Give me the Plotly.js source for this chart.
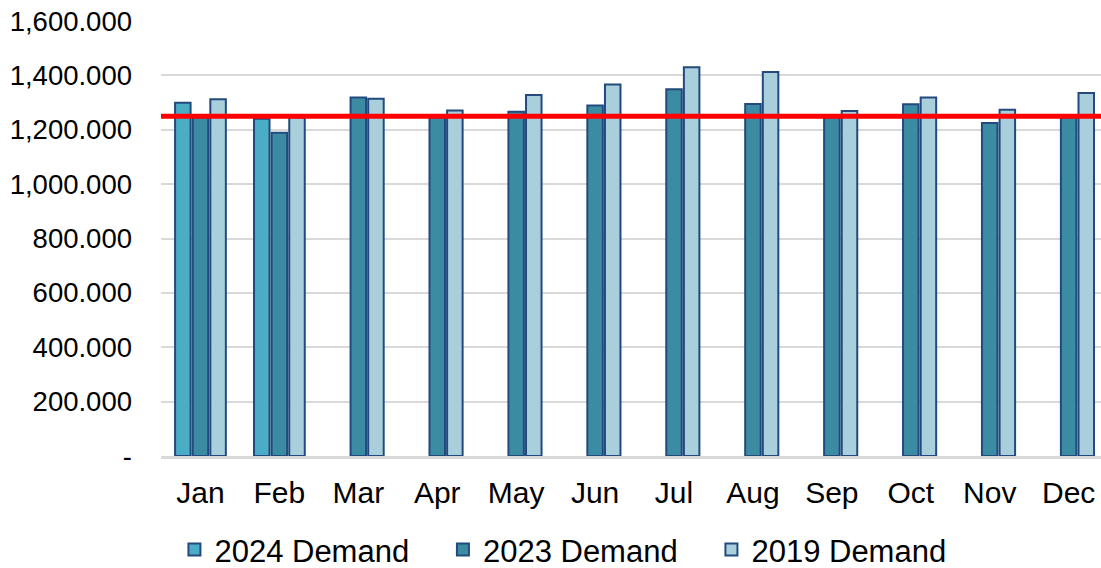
<!DOCTYPE html>
<html>
<head>
<meta charset="utf-8">
<script src="https://cdn.plot.ly/plotly-3.0.1.min.js"></script>
<style>
html,body{margin:0;padding:0;background:#fff;overflow:hidden;}
#chart{width:1101px;height:568px;}
</style>
</head>
<body>
<div id="chart"></div>
<script>
const months = ["Jan","Feb","Mar","Apr","May","Jun","Jul","Aug","Sep","Oct","Nov","Dec"];
const demand2024 = [1299, 1240, null, null, null, null, null, null, null, null, null, null];
const demand2023 = [1245, 1189, 1319, 1245, 1266, 1289, 1349, 1295, 1245, 1294, 1225, 1245];
const demand2019 = [1312, 1245, 1314, 1271, 1328, 1366, 1430, 1412, 1269, 1319, 1274, 1335];
const threshold = 1250;
const yTickVals = [0, 200, 400, 600, 800, 1000, 1200, 1400, 1600];
const yTickText = ["-", "200.000", "400.000", "600.000", "800.000", "1,000.000", "1,200.000", "1,400.000", "1,600.000"];

const outline = {color: "#234a7e", width: 2};
const traces = [
  {type: "bar", name: "2024 Demand", x: months, y: demand2024,
   marker: {color: "#4bacc6", line: outline}},
  {type: "bar", name: "2023 Demand", x: months, y: demand2023,
   marker: {color: "#3b8ba2", line: outline}},
  {type: "bar", name: "2019 Demand", x: months, y: demand2019,
   marker: {color: "#a9cfdd", line: outline}}
];

const layout = {
  width: 1101, height: 568,
  margin: {l: 161, r: 0, t: 21, b: 112, pad: 0, autoexpand: false},
  paper_bgcolor: "#fff", plot_bgcolor: "#fff",
  font: {family: "Liberation Sans, Arial, sans-serif", color: "#000"},
  barmode: "group",
  bargap: 0.33,
  bargroupgap: 0.12,
  showlegend: true,
  legend: {orientation: "h", x: 0.443, xanchor: "center", y: -0.216, yanchor: "middle",
           font: {size: 31, color: "#000"}, traceorder: "normal", itemwidth: 30,
           entrywidth: 223.5},
  xaxis: {type: "category", range: [-0.5, 11.41], showgrid: false, zeroline: false,
          showline: true, linecolor: "#d9d9d9", linewidth: 3, automargin: false,
          ticks: "", tickfont: {size: 30, color: "#000"}, ticklabelstandoff: 8},
  yaxis: {range: [0, 1600], tickvals: yTickVals, ticktext: yTickText, automargin: false,
          showgrid: true, gridcolor: "#d9d9d9", gridwidth: 2, zeroline: false,
          showline: false, ticks: "", tickfont: {size: 27.5, color: "#000"},
          ticklabelstandoff: 28},
  shapes: [{type: "line", xref: "paper", x0: 0, x1: 1, yref: "y", y0: threshold, y1: threshold,
            line: {color: "#ff0000", width: 5}}]
};

Plotly.newPlot("chart", traces, layout, {displayModeBar: false, staticPlot: true});
</script>
</body>
</html>
